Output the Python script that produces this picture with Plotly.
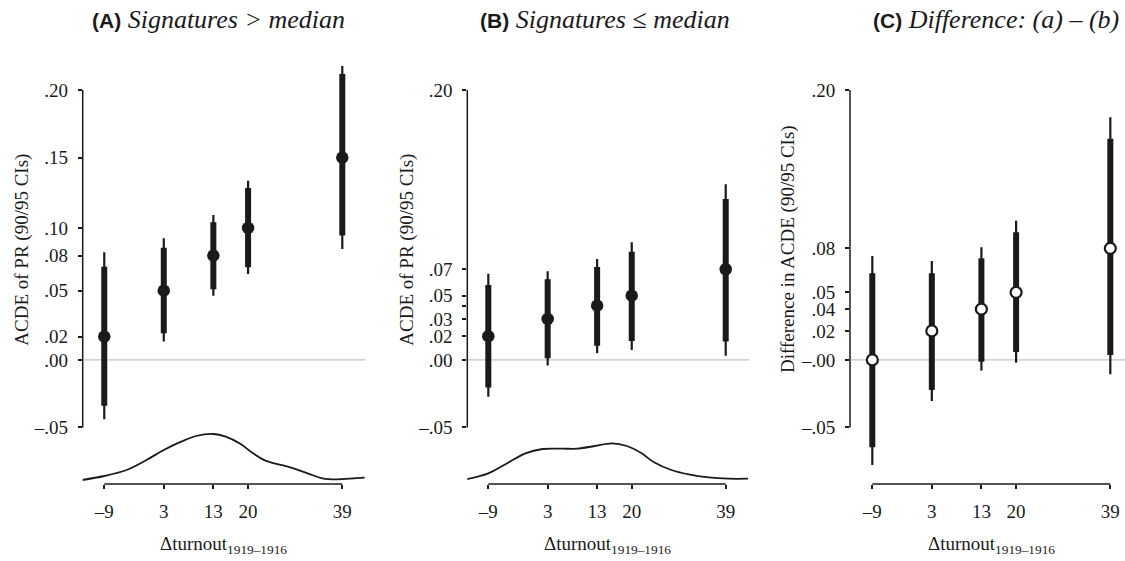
import plotly.graph_objects as go

# ---------------- data ----------------
turnout = [-9, 3, 13, 20, 39]
x_ticktext = ["–9", "3", "13", "20", "39"]

# Panel A: signatures > median
A_est = [0.0173, 0.0513, 0.0773, 0.0978, 0.1499]
A_lo90 = [-0.0339, 0.0198, 0.0524, 0.0687, 0.0921]
A_hi90 = [0.0691, 0.0832, 0.1020, 0.1274, 0.2119]
A_lo95 = [-0.0439, 0.0136, 0.0476, 0.0637, 0.0822]
A_hi95 = [0.0798, 0.0901, 0.1074, 0.1328, 0.2178]
A_yticks = [-0.05, 0.0, 0.0173, 0.0513, 0.0773, 0.0978, 0.1499, 0.20]
A_yticktext = ["–.05", ".00", ".02", ".05", ".08", ".10", ".15", ".20"]
A_yminor = []

# Panel B: signatures <= median
B_est = [0.0176, 0.0304, 0.0402, 0.0476, 0.0672]
B_lo90 = [-0.0205, 0.0013, 0.0106, 0.0141, 0.0136]
B_hi90 = [0.0556, 0.0598, 0.0689, 0.0802, 0.1193]
B_lo95 = [-0.0272, -0.0042, 0.0050, 0.0074, 0.0032]
B_hi95 = [0.0639, 0.0657, 0.0748, 0.0872, 0.1301]
B_yticks = [-0.05, 0.0, 0.0176, 0.0304, 0.0476, 0.0672, 0.20]
B_yticktext = ["–.05", ".00", ".02", ".03", ".05", ".07", ".20"]
B_yminor = [0.0402]          # unlabelled tick (label suppressed in original)

# Panel C: difference (a) - (b)
C_est = [0.0, 0.0215, 0.0376, 0.0501, 0.0827]
C_lo90 = [-0.0647, -0.0222, -0.0013, 0.0059, 0.0037]
C_hi90 = [0.0642, 0.0642, 0.0753, 0.0946, 0.1639]
C_lo95 = [-0.0778, -0.0304, -0.0079, -0.0020, -0.0106]
C_hi95 = [0.0770, 0.0733, 0.0835, 0.1032, 0.1798]
C_yticks = [-0.05, 0.0, 0.0215, 0.0376, 0.0501, 0.0827, 0.20]
C_yticktext = ["–.05", "–.00", ".02", ".04", ".05", ".08", ".20"]
C_yminor = []

# density of turnout change
A_dens_x = [-13.5, -9, -4.5, -0.5, 3, 6.5, 9.5, 13, 15.5, 18.5, 21, 23.5, 28, 32, 35, 38, 40.5, 43.5]
A_dens_y = [0.0012, 0.0036, 0.0072, 0.0132, 0.0192, 0.0242, 0.0276, 0.0288, 0.0272, 0.0228,
            0.0172, 0.0128, 0.0092, 0.0052, 0.0022, 0.0016, 0.0020, 0.0026]
B_dens_x = [-13.5, -9, -5, -1.5, 2, 6, 9, 12.5, 16, 19, 22, 24.5, 28, 31.5, 35.5, 39.5, 43.5]
B_dens_y = [0.0016, 0.0052, 0.0116, 0.0172, 0.0198, 0.0200, 0.0200, 0.0216, 0.0232, 0.0216,
            0.0172, 0.0118, 0.0072, 0.0046, 0.0028, 0.0020, 0.0020]

titles = ["<span style='font-family:Liberation Sans;font-size:21px'><b>(A)</b></span> <i>Signatures &gt; median</i>",
          "<span style='font-family:Liberation Sans;font-size:21px'><b>(B)</b></span> <i>Signatures ≤ median</i>",
          "<span style='font-family:Liberation Sans;font-size:21px'><b>(C)</b></span> <i>Difference: (a) – (b)</i>"]
ytitles = ["ACDE of PR (90/95 CIs)", "ACDE of PR (90/95 CIs)", "Difference in ACDE (90/95 CIs)"]
xtitle = "Δturnout<sub>1919–1916</sub>"

# ---------------- styling / layout ----------------
W, H = 1125, 561
PLOT_TOP, PLOT_BOT = 60, 484          # pixels
PLOT_H = PLOT_BOT - PLOT_TOP


def px_x(p):      # pixel x -> paper fraction
    return p / W


def px_y(p):      # pixel y -> paper fraction
    return (PLOT_BOT - p) / PLOT_H


SERIF = "Liberation Serif"
INK = "#1a1a1a"
FS = 19

x_domains = [(px_x(82.7), px_x(365.7)), (px_x(467.3), px_x(749.3)), (px_x(850), 1.0)]
x_ranges = [(-13.35, 43.72), (-13.25, 43.77), (-13.5, 41.96)]
y_range = (-0.0919, 0.2222)
dens_range = (-0.0012, 0.2532)
title_x = [218, 605, 996]
ytitle_x = [21.7, 406.7, 788]
ytitle_y = [250, 250, 249]

panels = [
    (A_est, A_lo90, A_hi90, A_lo95, A_hi95, A_yticks, A_yticktext, A_yminor, (A_dens_x, A_dens_y), False),
    (B_est, B_lo90, B_hi90, B_lo95, B_hi95, B_yticks, B_yticktext, B_yminor, (B_dens_x, B_dens_y), False),
    (C_est, C_lo90, C_hi90, C_lo95, C_hi95, C_yticks, C_yticktext, C_yminor, None, True),
]

fig = go.Figure()
layout = dict(
    width=W, height=H,
    margin=dict(l=0, r=0, t=PLOT_TOP, b=H - PLOT_BOT, pad=0),
    paper_bgcolor="white", plot_bgcolor="white",
    showlegend=False,
    font=dict(family=SERIF, size=FS, color=INK),
    shapes=[], annotations=[],
)


def segs(xs, lo, hi):
    xx, yy = [], []
    for x, a, b in zip(xs, lo, hi):
        xx += [x, x, None]
        yy += [a, b, None]
    return xx, yy


for i, (est, lo90, hi90, lo95, hi95, yt, ytt, ymin_t, dens, hollow) in enumerate(panels):
    n = i + 1
    xa = "x" if n == 1 else f"x{n}"
    ya = "y" if n == 1 else f"y{n}"
    xkey = "xaxis" if n == 1 else f"xaxis{n}"
    ykey = "yaxis" if n == 1 else f"yaxis{n}"

    layout[xkey] = dict(domain=list(x_domains[i]), range=list(x_ranges[i]), anchor=ya,
                        showgrid=False, zeroline=False, showline=False, automargin=False,
                        tickmode="array", tickvals=turnout, ticktext=x_ticktext,
                        ticks="outside", ticklen=4, tickwidth=1.5, tickcolor=INK,
                        ticklabelstandoff=6, tickfont=dict(size=FS, family=SERIF, color=INK))
    ydict = dict(domain=[0, 1], range=list(y_range), anchor=xa,
                 showgrid=False, zeroline=False, showline=False, automargin=False,
                 tickmode="array", tickvals=yt, ticktext=ytt,
                 ticks="outside", ticklen=4, tickwidth=1.5, tickcolor=INK,
                 ticklabelstandoff=6, tickfont=dict(size=FS, family=SERIF, color=INK))
    if ymin_t:
        ydict["minor"] = dict(tickmode="array", tickvals=ymin_t, ticks="outside", ticklen=4,
                              tickwidth=1.5, tickcolor=INK, showgrid=False)
    layout[ykey] = ydict

    # zero reference line
    layout["shapes"].append(dict(type="line", xref=f"{xa} domain", yref=ya, x0=0, x1=1, y0=0, y1=0,
                                 line=dict(color="#c4c4c4", width=1.3), layer="below"))
    # axis lines spanning the tick range (R-style)
    layout["shapes"].append(dict(type="line", xref=f"{xa} domain", yref=ya, x0=0, x1=0,
                                 y0=min(yt), y1=max(yt), line=dict(color=INK, width=1.5)))
    layout["shapes"].append(dict(type="line", xref=xa, yref=f"{ya} domain", x0=min(turnout),
                                 x1=max(turnout), y0=0, y1=0, line=dict(color=INK, width=1.5)))

    # 95% CIs (thin) and 90% CIs (thick)
    sx, sy = segs(turnout, lo95, hi95)
    fig.add_trace(go.Scatter(x=sx, y=sy, mode="lines", xaxis=xa, yaxis=ya,
                             line=dict(color=INK, width=2.2), hoverinfo="skip"))
    sx, sy = segs(turnout, lo90, hi90)
    fig.add_trace(go.Scatter(x=sx, y=sy, mode="lines", xaxis=xa, yaxis=ya,
                             line=dict(color=INK, width=6), hoverinfo="skip"))
    # point estimates
    if hollow:
        mk = dict(size=11, color="white", line=dict(color=INK, width=2.2))
    else:
        mk = dict(size=12.5, color=INK, line=dict(color=INK, width=0))
    fig.add_trace(go.Scatter(x=turnout, y=est, mode="markers", xaxis=xa, yaxis=ya, marker=mk))

    # density of the moderator
    if dens is not None:
        dkey = f"yaxis{n + 3}"
        layout[dkey] = dict(domain=[0, 1], range=list(dens_range), overlaying=ya, anchor=xa,
                            visible=False)
        fig.add_trace(go.Scatter(x=dens[0], y=dens[1], mode="lines", xaxis=xa, yaxis=f"y{n + 3}",
                                 line=dict(color=INK, width=1.8, shape="spline", smoothing=1.0),
                                 hoverinfo="skip"))

    # panel title
    layout["annotations"].append(dict(text=titles[i], xref="paper", yref="paper",
                                      x=px_x(title_x[i]), y=px_y(19), yanchor="middle", xanchor="center",
                                      showarrow=False, font=dict(size=26, family=SERIF, color=INK)))
    # y axis title
    layout["annotations"].append(dict(text=ytitles[i], xref="paper", yref="paper",
                                      x=px_x(ytitle_x[i]), y=px_y(ytitle_y[i]),
                                      xanchor="center", yanchor="middle",
                                      textangle=-90, showarrow=False,
                                      font=dict(size=FS, family=SERIF, color=INK)))
    # x axis title, centred on the tick range
    layout["annotations"].append(dict(text=xtitle, xref=xa, yref="paper",
                                      x=(min(turnout) + max(turnout)) / 2, y=px_y(545),
                                      xanchor="center", yanchor="middle", showarrow=False,
                                      font=dict(size=FS, family=SERIF, color=INK)))

fig.update_layout(**layout)
# remove the browser's default 8px body margin so the figure fills the window exactly
fig.write_html("out.html", config={"displayModeBar": False},
               post_script="document.body.style.margin='0';document.body.style.overflow='hidden';")
